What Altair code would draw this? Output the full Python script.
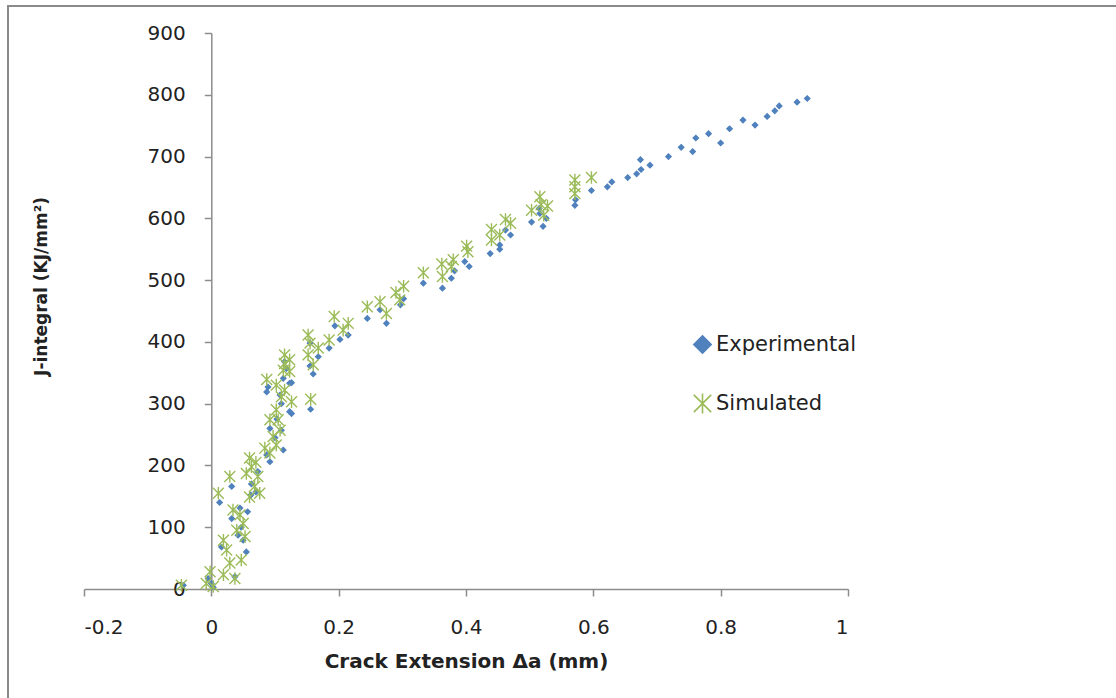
import altair as alt
import pandas as pd

# Experimental series (crack extension mm, J-integral)
exp_x = [-0.044, -0.005, 0.000, 0.003, 0.037, 0.016, 0.042, 0.050, 0.055, 0.047,
         0.032, 0.045, 0.057, 0.013, 0.032, 0.062, 0.070, 0.063, 0.073, 0.092,
         0.087, 0.113, 0.100, 0.092, 0.110, 0.103, 0.123, 0.110, 0.108, 0.087,
         0.089, 0.123, 0.113, 0.118, 0.115, 0.126, 0.126, 0.156, 0.155, 0.160,
         0.155, 0.168, 0.185, 0.194, 0.202, 0.215, 0.245, 0.265, 0.275, 0.297,
         0.302, 0.333, 0.363, 0.377, 0.382, 0.398, 0.405, 0.438, 0.453, 0.453,
         0.470, 0.462, 0.503, 0.521, 0.526, 0.516, 0.515, 0.571, 0.572, 0.597,
         0.622, 0.629, 0.654, 0.668, 0.675, 0.674, 0.689, 0.718, 0.738, 0.756,
         0.761, 0.781, 0.800, 0.814, 0.835, 0.854, 0.873, 0.885, 0.892, 0.920,
         0.936]
exp_j = [6, 17, 9, 3, 20, 68, 87, 79, 60, 100,
         114, 131, 125, 140, 166, 152, 157, 170, 190, 206,
         217, 225, 245, 260, 257, 275, 287, 300, 314, 319,
         327, 333, 341, 357, 368, 284, 334, 291, 361, 348,
         398, 376, 390, 426, 404, 411, 438, 452, 430, 460,
         470, 495, 487, 503, 515, 530, 522, 543, 550, 557,
         573, 581, 594, 587, 600, 608, 616, 621, 630, 645,
         651, 659, 666, 672, 679, 695, 686, 700, 715, 708,
         730, 737, 722, 745, 759, 751, 765, 774, 782, 788,
         794]

# Simulated series
sim_x = [-0.047, -0.008, 0.003, -0.002, 0.019, 0.037, 0.029, 0.047, 0.024, 0.019,
         0.053, 0.040, 0.050, 0.045, 0.034, 0.011, 0.060, 0.076, 0.068, 0.029,
         0.055, 0.073, 0.063, 0.060, 0.070, 0.092, 0.084, 0.102, 0.097, 0.108,
         0.092, 0.105, 0.102, 0.126, 0.110, 0.115, 0.102, 0.087, 0.113, 0.115,
         0.115, 0.123, 0.123, 0.156, 0.160, 0.152, 0.155, 0.152, 0.168, 0.185,
         0.193, 0.207, 0.215, 0.245, 0.265, 0.275, 0.296, 0.290, 0.302, 0.333,
         0.362, 0.363, 0.380, 0.377, 0.401, 0.403, 0.440, 0.440, 0.453, 0.462,
         0.470, 0.503, 0.516, 0.518, 0.528, 0.522, 0.571, 0.571, 0.571, 0.597]
sim_j = [6, 9, 4, 28, 23, 17, 42, 47, 63, 79,
         85, 95, 106, 120, 128, 155, 149, 155, 166, 182,
         187, 182, 198, 212, 205, 220, 228, 233, 247, 257,
         274, 274, 290, 303, 311, 322, 330, 339, 354, 365,
         379, 352, 371, 307, 363, 379, 398, 411, 390, 403,
         441, 419, 430, 457, 465, 446, 468, 480, 490, 512,
         526, 506, 533, 522, 555, 546, 582, 565, 573, 598,
         592, 613, 635, 622, 620, 605, 662, 651, 640, 666]

series_names = ["Experimental", "Simulated"]
x_ticks = [-0.2, 0, 0.2, 0.4, 0.6, 0.8, 1]
y_ticks = [0, 100, 200, 300, 400, 500, 600, 700, 800, 900]

df_exp = pd.DataFrame({"x": exp_x, "j": exp_j, "series": series_names[0]})
df_sim = pd.DataFrame({"x": sim_x, "j": sim_j, "series": series_names[1]})

W, H = 764, 556
PL, PT = 84, 33
FONT = "DejaVu Sans"
AXIS_COLOR = "#8c8c8c"

asterisk = "M-1,-1L1,1M-1,1L1,-1M0,-1.15L0,1.15"

x_enc = alt.X("x:Q",
              scale=alt.Scale(domain=[-0.2, 1], nice=False, zero=False),
              axis=alt.Axis(values=x_ticks, title="Crack Extension Δa (mm)",
                            labelExpr="datum.value < 0 ? '-' + format(-datum.value, '~g') : format(datum.value, '~g')",
                            grid=False, domainColor=AXIS_COLOR, tickColor=AXIS_COLOR,
                            domainWidth=1.5, tickWidth=1.5, tickSize=7,
                            labelFont=FONT, labelFontSize=20, labelColor="#222",
                            labelPadding=21, labelBaseline="top",
                            titleFont=FONT, titleFontSize=20, titleFontWeight="bold",
                            titleColor="#222", titleBaseline="alphabetic",
                            titleY=78, titleX=382))
y_enc = alt.Y("j:Q",
              scale=alt.Scale(domain=[0, 900], nice=False),
              axis=alt.Axis(values=y_ticks, title="J-integral (KJ/mm²)",
                            offset=-127.3, grid=False,
                            domainColor=AXIS_COLOR, tickColor=AXIS_COLOR,
                            domainWidth=1.5, tickWidth=1.5, tickSize=7,
                            labelFont=FONT, labelFontSize=20, labelColor="#222",
                            labelPadding=19,
                            titleFont=FONT, titleFontSize=17, titleFontWeight="bold",
                            titleColor="#222", titleAngle=270, titleAlign="center",
                            titleBaseline="alphabetic", titleX=-165, titleY=253))

legend = alt.Legend(title=None, orient="none", legendX=608, legendY=301,
                    labelFont=FONT, labelFontSize=21, labelColor="#222",
                    symbolSize=300, symbolStrokeWidth=1.6,
                    rowPadding=33, labelOffset=3, padding=0)

shape_enc = alt.Shape("series:N",
                      scale=alt.Scale(domain=series_names, range=["diamond", asterisk]),
                      legend=legend)
fill_enc = alt.Fill("series:N",
                    scale=alt.Scale(domain=series_names, range=["#4F81BD", "transparent"]),
                    legend=legend)
stroke_enc = alt.Stroke("series:N",
                        scale=alt.Scale(domain=series_names, range=["#4F81BD", "#9BBB59"]),
                        legend=legend)

exp_layer = alt.Chart(df_exp).mark_point(opacity=1, strokeWidth=1.2, size=30).encode(
    x=x_enc, y=y_enc, shape=shape_enc, fill=fill_enc, stroke=stroke_enc)
sim_layer = alt.Chart(df_sim).mark_point(opacity=1, strokeWidth=1.4, size=120).encode(
    x=x_enc, y=y_enc, shape=shape_enc, fill=fill_enc, stroke=stroke_enc)

border = alt.Chart(pd.DataFrame({"a": [0]})).mark_rect(
    fill="transparent", stroke="#8a8a8a", strokeWidth=2
).encode(
    x=alt.value(8 - PL), x2=alt.value(1300),
    y=alt.value(6 - PT), y2=alt.value(900),
)

chart = alt.layer(border, exp_layer, sim_layer).properties(
    width=W, height=H,
    autosize=alt.AutoSizeParams(type="none"),
    padding={"left": PL, "top": PT, "right": 1116 - PL - W, "bottom": 698 - PT - H},
    background="white",
).configure_view(stroke=None)

chart.save("out.html", embed_options={"renderer": "svg", "actions": False})
